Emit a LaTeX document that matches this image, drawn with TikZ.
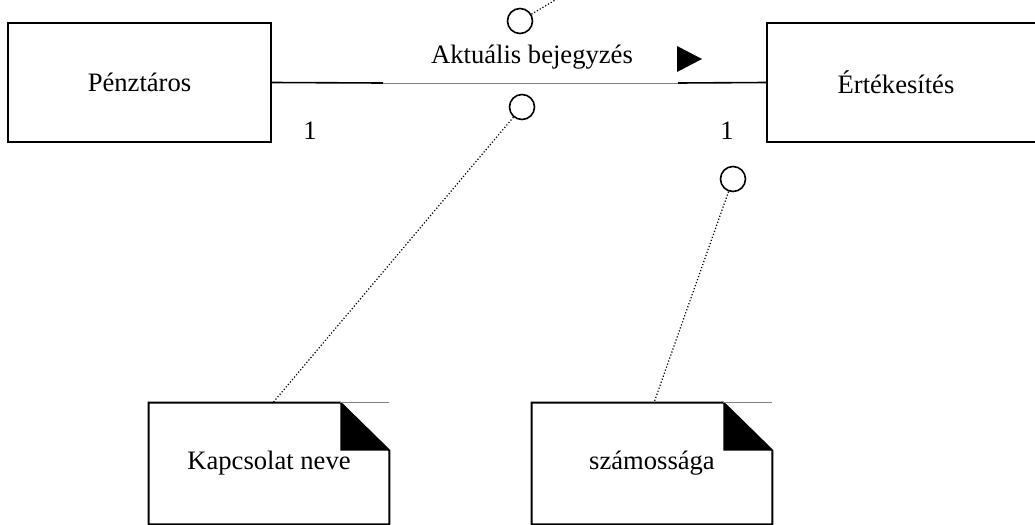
\documentclass[tikz,border=0pt]{standalone}
\usepackage{fontspec}
\setmainfont{Liberation Serif}
\usetikzlibrary{calc,positioning}

\begin{document}
\begin{tikzpicture}[x=0.5pt,y=-0.5pt,
    class/.style={draw, line width=1pt, minimum height=59.5pt, inner sep=0pt},
    note/.style={minimum width=120pt, minimum height=60.5pt, inner sep=0pt},
    knob/.style={circle, draw, line width=0.8pt, minimum size=12.5pt, inner sep=0pt},
    link/.style={densely dotted, line width=0.6pt},
    font=\fontsize{13.3}{16}\selectfont]
  \useasboundingbox (0,0) rectangle (1035,525);
  % classes
  \node[class, minimum width=131.5pt] (P) at (139.5,82.5) {Pénztáros};
  \node[class, minimum width=140pt] (E) at (907,82.5) {\hspace*{-11pt}Értékesítés};
  % association
  \coordinate (la) at (383,83);
  \coordinate (lb) at (678,83);
  \draw[line width=0.8pt] (P.east) -- (la);
  \draw[gray, line width=0.5pt] (la) -- (lb);
  \draw[line width=0.8pt] (lb) -- (E.west);
  \node (name) at (532,57) {Aktuális bejegyzés};
  \fill (677,46) -- (677,72) -- (702,59) -- cycle;
  \node (m1) at (310,131) {1};
  \node (m2) at (727,131) {1};
  % notes
  \node[note] (kap) at (269,463.5) {Kapcsolat neve};
  \node[note] (szam) at (652,463.5) {számossága};
  \foreach \n in {kap,szam} {
    \draw[line width=1pt] ($(\n.north east)+(-24.5pt,0)$) -- (\n.north west)
      -- (\n.south west) -- (\n.south east) -- ($(\n.north east)+(0,-24pt)$) -- cycle;
    \fill ($(\n.north east)+(-24.5pt,0)$) -- ($(\n.north east)+(-24.5pt,-24pt)$)
      -- ($(\n.north east)+(0,-24pt)$) -- cycle;
    \draw[gray, line width=0.5pt] ($(\n.north east)+(-24.5pt,0)$) -- (\n.north east);
  }
  % knobs
  \node[knob] (c1) at (520,21) {};
  \node[knob] (c2) at (522,107) {};
  \node[knob] (c3) at (733,179) {};
  \coordinate (up) at (562,-4);
  \draw[link] (c1) -- (up);
  \draw[link] (c2) -- ($(kap.north)+(2pt,0)$);
  \draw[link] (c3) -- ($(szam.north)+(1pt,0)$);
\end{tikzpicture}
\end{document}
